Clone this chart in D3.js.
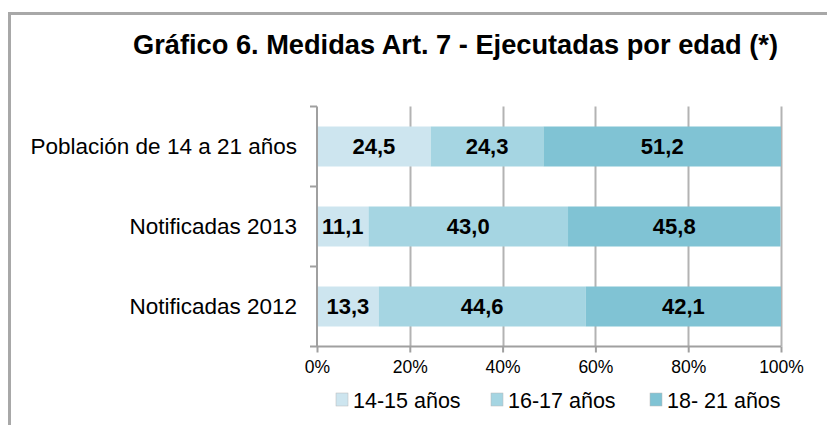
<!DOCTYPE html>
<html>
<head>
<meta charset="utf-8">
<script src="https://cdn.jsdelivr.net/npm/d3@7"></script>
<style>
  body { margin: 0; background: #fff; }
  text { font-family: "Liberation Sans", Arial, sans-serif; }
</style>
</head>
<body>
<script>
let w = 827;
let h = 425;

const categories = ["Población de 14 a 21 años", "Notificadas 2013", "Notificadas 2012"];
const seriesNames = ["14-15 años", "16-17 años", "18- 21 años"];
const age1415 = [24.5, 11.1, 13.3];
const age1617 = [24.3, 43.0, 44.6];
const age1821 = [51.2, 45.8, 42.1];
const tickValues = [0, 20, 40, 60, 80, 100];
const colors = ["#cde5ef", "#a5d5e2", "#80c3d4"];

const rows = categories.map(function (c, i) {
  return { cat: c, a: age1415[i], b: age1617[i], c: age1821[i] };
});
const stacked = d3.stack().keys(["a", "b", "c"])(rows);

let svg = d3.select("body").append("svg").attr("width", w).attr("height", h);

// outer frame (only top and left visible)
svg.append("path")
  .attr("d", "M9.5," + h + " L9.5,13.5 L" + w + ",13.5")
  .attr("fill", "none")
  .attr("stroke", "#a8a8a8")
  .attr("stroke-width", 3);

svg.append("text")
  .text("Gráfico 6. Medidas Art. 7 - Ejecutadas por edad (*)")
  .attr("x", 133)
  .attr("y", 54)
  .attr("font-size", "27px")
  .attr("font-weight", "bold")
  .attr("textLength", 645)
  .attr("lengthAdjust", "spacingAndGlyphs")
  .attr("fill", "#000");

const x = d3.scaleLinear().domain([0, 100]).range([317, 781]);
const y = d3.scaleBand().domain(categories).range([106.5, 346.5])
  .paddingInner(0.5).paddingOuter(0.25);

// gridlines
svg.append("g")
  .selectAll("line")
  .data(tickValues.slice(1))
  .enter()
  .append("line")
  .attr("x1", function (d) { return Math.round(x(d)) + 0.5; })
  .attr("x2", function (d) { return Math.round(x(d)) + 0.5; })
  .attr("y1", 106.5)
  .attr("y2", 346.5)
  .attr("stroke", "#b3b3b3")
  .attr("stroke-width", 2);

// bars
svg.append("g")
  .selectAll("g")
  .data(stacked)
  .enter()
  .append("g")
  .attr("fill", function (d, i) { return colors[i]; })
  .selectAll("rect")
  .data(function (d) { return d; })
  .enter()
  .append("rect")
  .attr("x", function (d) { return x(d[0]); })
  .attr("width", function (d) { return x(d[1]) - x(d[0]); })
  .attr("y", function (d) { return y(d.data.cat); })
  .attr("height", y.bandwidth());

// value labels
svg.append("g")
  .selectAll("g")
  .data(stacked)
  .enter()
  .append("g")
  .selectAll("text")
  .data(function (d) { return d; })
  .enter()
  .append("text")
  .text(function (d) { return (d[1] - d[0]).toFixed(1).replace(".", ","); })
  .attr("x", function (d) { return (x(d[0]) + x(d[1])) / 2; })
  .attr("y", function (d) { return y(d.data.cat) + y.bandwidth() / 2; })
  .attr("dy", ".36em")
  .attr("text-anchor", "middle")
  .attr("font-size", "22px")
  .attr("font-weight", "bold")
  .attr("fill", "#000");

// x axis
let xAxis = svg.append("g")
  .attr("transform", "translate(0,346.5)")
  .call(d3.axisBottom(x).tickValues(tickValues).tickSize(6).tickFormat(function (d) { return d + "%"; }));
xAxis.select(".domain").attr("stroke", "#a0a0a0").attr("stroke-width", 2).attr("d", "M310,0H781");
xAxis.selectAll(".tick line").attr("stroke", "#a0a0a0").attr("stroke-width", 2);
xAxis.selectAll(".tick text")
  .attr("font-size", "17.5px")
  .attr("fill", "#000")
  .attr("y", 14)
  .attr("font-family", "Liberation Sans, Arial, sans-serif");

// y axis
let yAxis = svg.append("g")
  .attr("transform", "translate(317,0)")
  .call(d3.axisLeft(y).tickSize(0).tickPadding(20));
yAxis.select(".domain").attr("stroke", "#a0a0a0").attr("stroke-width", 2).attr("d", "M0,106.5V346.5");
yAxis.selectAll(".tick text")
  .attr("font-size", "22.5px")
  .attr("fill", "#000")
  .attr("font-family", "Liberation Sans, Arial, sans-serif");

// category separators on y axis
const gap = (y.step() - y.bandwidth()) / 2;
svg.append("g")
  .selectAll("line")
  .data(categories)
  .enter()
  .append("line")
  .attr("x1", 310)
  .attr("x2", 317)
  .attr("y1", function (d) { return y(d) - gap; })
  .attr("y2", function (d) { return y(d) - gap; })
  .attr("stroke", "#a0a0a0")
  .attr("stroke-width", 2);

// legend
const legendX = [336, 491, 650];
let legend = svg.append("g")
  .selectAll("g")
  .data(seriesNames)
  .enter()
  .append("g")
  .attr("transform", function (d, i) { return "translate(" + legendX[i] + ",393)"; });
legend.append("rect")
  .attr("width", 12)
  .attr("height", 13)
  .attr("fill", function (d, i) { return colors[i]; })
  .attr("stroke", "#b8b8b8")
  .attr("stroke-width", 0.5);
legend.append("text")
  .text(function (d) { return d; })
  .attr("x", 17)
  .attr("y", 14.5)
  .attr("font-size", "21.5px")
  .attr("fill", "#000");
</script>
</body>
</html>
